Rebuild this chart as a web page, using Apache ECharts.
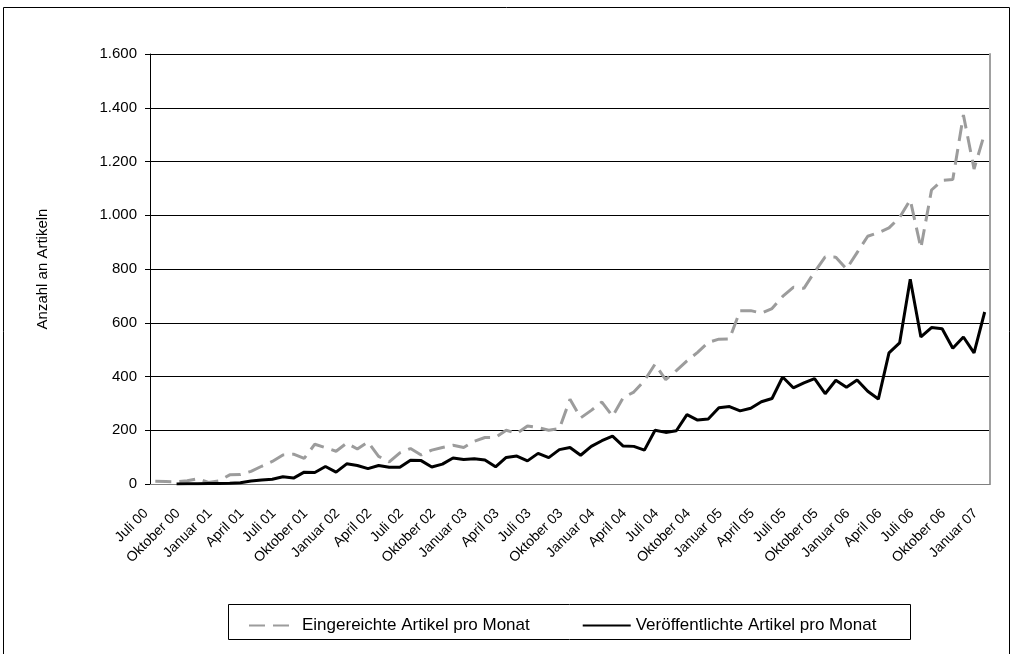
<!DOCTYPE html>
<html>
<head>
<meta charset="utf-8">
<script src="https://cdn.jsdelivr.net/npm/echarts@6/dist/echarts.min.js"></script>
<style>
  html, body { margin: 0; padding: 0; background: #fff; }
  #chart { width: 1013px; height: 654px; }
</style>
</head>
<body>
<div id="chart"></div>
<script>
// Monthly categories, July 2000 to January 2007
const months = [
  'Juli 00','August 00','September 00','Oktober 00','November 00','Dezember 00',
  'Januar 01','Februar 01','März 01','April 01','Mai 01','Juni 01',
  'Juli 01','August 01','September 01','Oktober 01','November 01','Dezember 01',
  'Januar 02','Februar 02','März 02','April 02','Mai 02','Juni 02',
  'Juli 02','August 02','September 02','Oktober 02','November 02','Dezember 02',
  'Januar 03','Februar 03','März 03','April 03','Mai 03','Juni 03',
  'Juli 03','August 03','September 03','Oktober 03','November 03','Dezember 03',
  'Januar 04','Februar 04','März 04','April 04','Mai 04','Juni 04',
  'Juli 04','August 04','September 04','Oktober 04','November 04','Dezember 04',
  'Januar 05','Februar 05','März 05','April 05','Mai 05','Juni 05',
  'Juli 05','August 05','September 05','Oktober 05','November 05','Dezember 05',
  'Januar 06','Februar 06','März 06','April 06','Mai 06','Juni 06',
  'Juli 06','August 06','September 06','Oktober 06','November 06','Dezember 06',
  'Januar 07'
];

// Submitted articles per month
const eingereicht = [
  10, 9, 8, 12, 20, 6, 12, 34, 35, 47, 66, 84,
  108, 111, 95, 148, 135, 122, 152, 130, 156, 103, 82, 116,
  132, 108, 126, 136, 144, 136, 159, 173, 173, 200, 188, 216,
  210, 200, 206, 315, 246, 274, 305, 252, 321, 342, 385, 446,
  388, 422, 458, 490, 527, 539, 540, 645, 645, 636, 653, 698,
  732, 728, 789, 845, 844, 800, 861, 922, 935, 953, 992, 1057,
  878, 1094, 1130, 1133, 1373, 1172, 1305
];

// Published articles per month (none recorded for the first two months)
const veroeffentlicht = [
  null, null, 0, 1, 1, 2, 2, 3, 5, 11, 15, 18,
  27, 22, 44, 43, 65, 44, 75, 69, 57, 69, 62, 62,
  88, 87, 63, 74, 97, 91, 94, 89, 64, 99, 104, 86,
  114, 98, 128, 136, 107, 140, 161, 178, 141, 140, 126, 200,
  192, 198, 258, 238, 242, 284, 288, 272, 282, 306, 318, 398,
  358, 376, 392, 336, 386, 360, 387, 345, 316, 488, 525, 762,
  547, 582, 578, 505, 547, 488, 640
];

const yTicks = { min: 0, max: 1600, step: 200 };

function deNumber(v) {
  return String(v).replace(/\B(?=(\d{3})+(?!\d))/g, '.');
}

const chart = echarts.init(document.getElementById('chart'), null, { renderer: 'canvas' });
const font = 'Liberation Sans, Arial, sans-serif';

chart.setOption({
  animation: false,
  backgroundColor: '#ffffff',
  textStyle: { fontFamily: font },
  grid: { left: 150, right: 23, top: 54, bottom: 170, containLabel: false },
  graphic: [
    // outer frame of the chart
    { type: 'rect', shape: { x: 3.5, y: 7.5, width: 1006, height: 660 },
      style: { fill: 'none', stroke: '#000', lineWidth: 1 }, silent: true },
    // legend frame
    { type: 'rect', shape: { x: 228.5, y: 604.5, width: 682, height: 35 },
      style: { fill: '#fff', stroke: '#000', lineWidth: 1 }, silent: true, z: 0 }
  ],
  legend: {
    left: 243, top: 612,
    itemWidth: 48, itemHeight: 14, itemGap: 52,
    itemStyle: { color: 'rgba(0,0,0,0)', borderWidth: 0, opacity: 0 },
    textStyle: { fontFamily: font, fontSize: 17, color: '#000' },
    data: ['Eingereichte Artikel pro Monat', 'Veröffentlichte Artikel pro Monat'],
    z: 5
  },
  xAxis: {
    type: 'category',
    data: months,
    boundaryGap: true,
    axisLine: { lineStyle: { color: '#808080', width: 1 } },
    axisTick: { interval: 2, length: 5, lineStyle: { color: '#000' } },
    axisLabel: {
      interval: 2, rotate: 45, margin: 18,
      fontFamily: font, fontSize: 14, color: '#000',
      padding: [0, 13, 0, 0]
    },
    splitLine: { show: false }
  },
  yAxis: [
    {
      type: 'value',
      min: yTicks.min, max: yTicks.max, interval: yTicks.step,
      name: 'Anzahl an Artikeln',
      nameLocation: 'middle', nameRotate: 90, nameGap: 100,
      nameTextStyle: { fontFamily: font, fontSize: 15, color: '#000' },
      axisLine: { show: true, lineStyle: { color: '#000', width: 1 } },
      axisTick: { show: true, length: 5, lineStyle: { color: '#000' } },
      axisLabel: { formatter: deNumber, margin: 13, fontFamily: font, fontSize: 15, color: '#000' },
      splitLine: { show: true, lineStyle: { color: '#000', width: 1 } }
    },
    {
      type: 'value', position: 'right',
      min: yTicks.min, max: yTicks.max, interval: yTicks.step,
      axisLine: { show: true, lineStyle: { color: '#a0a0a0', width: 2 } },
      axisTick: { show: false }, axisLabel: { show: false }, splitLine: { show: false }
    }
  ],
  series: [
    {
      name: 'Eingereichte Artikel pro Monat',
      type: 'line', data: eingereicht, symbol: 'none',
      lineStyle: { color: '#9c9c9c', width: 3, type: [16, 8] },
      itemStyle: { color: '#9c9c9c' },
      z: 3
    },
    {
      name: 'Veröffentlichte Artikel pro Monat',
      type: 'line', data: veroeffentlicht, symbol: 'none',
      connectNulls: false,
      lineStyle: { color: '#000', width: 3 },
      itemStyle: { color: '#000' },
      z: 4
    }
  ]
});
</script>
</body>
</html>
